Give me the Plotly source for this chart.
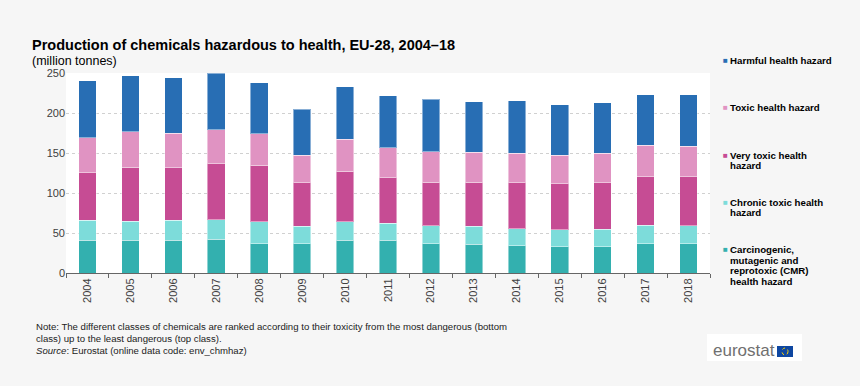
import plotly.graph_objects as go

years = ["2004", "2005", "2006", "2007", "2008", "2009", "2010", "2011",
         "2012", "2013", "2014", "2015", "2016", "2017", "2018"]

cmr = [41.2, 41.2, 41.2, 42.1, 36.7, 36.7, 40.8, 40.8, 36.7, 35.8, 33.8, 32.9, 32.9, 36.7, 36.7]
chronic_toxic = [24.6, 23.8, 24.6, 24.6, 27.1, 21.6, 23.0, 21.7, 22.5, 22.5, 21.7, 20.9, 21.7, 23.3, 22.1]
very_toxic = [59.6, 67.5, 65.9, 70.0, 70.9, 54.6, 63.4, 56.3, 54.1, 55.4, 57.5, 57.5, 58.3, 60.4, 61.7]
toxic = [43.8, 44.2, 43.3, 42.5, 39.2, 34.2, 40.0, 37.5, 38.4, 37.1, 36.7, 35.9, 37.1, 39.6, 37.9]
harmful = [71.2, 70.0, 69.2, 70.4, 63.8, 57.9, 65.8, 65.5, 65.8, 63.0, 65.4, 62.9, 62.9, 62.9, 64.6]

series_names = [
    "Carcinogenic,<br>mutagenic and<br>reprotoxic (CMR)<br>health hazard",
    "Chronic toxic health<br>hazard",
    "Very toxic health<br>hazard",
    "Toxic health hazard",
    "Harmful health hazard",
]
series_values = [cmr, chronic_toxic, very_toxic, toxic, harmful]
colors = ["#33B0AF", "#7DDCDA", "#C64C94", "#E093C2", "#286EB4"]

title = "Production of chemicals hazardous to health, EU-28, 2004–18"
subtitle = "(million tonnes)"
note_lines = ["Note: The different classes of chemicals are ranked according to their toxicity from the most dangerous (bottom",
              "class) up to the least dangerous (top class)."]
source = "<i>Source</i>: Eurostat (online data code: env_chmhaz)"

FONT = "Arial, Liberation Sans, sans-serif"

fig = go.Figure()
for name, vals, col in zip(series_names, series_values, colors):
    fig.add_trace(go.Bar(
        x=years, y=vals, name=name.replace("<br>", " "), marker_color=col,
        marker_line=dict(width=1, color="rgba(255,255,255,0.45)"),
        showlegend=False,
    ))

W, H = 860, 386
L, R, T, B = 66, 150, 73, 113
PW, PH = W - L - R, H - T - B

fig.update_layout(
    width=W, height=H,
    barmode="stack", bargap=0.59,
    paper_bgcolor="#F6F6F6", plot_bgcolor="#FFFFFF",
    margin=dict(l=L, r=R, t=T, b=B, autoexpand=False),
    font=dict(family=FONT, size=11, color="#404040"),
    xaxis=dict(
        type="category", tickangle=-90, tickson="boundaries",
        ticks="outside", ticklen=4, tickcolor="#666666",
        showline=True, linecolor="#666666", linewidth=1,
        showgrid=False, tickfont=dict(size=11, color="#404040"),
    ),
    yaxis=dict(
        range=[0, 250], tickvals=[0, 50, 100, 150, 200, 250],
        showgrid=True, gridcolor="#D0D0D0", griddash="dot", gridwidth=1,
        zeroline=False, showline=False, ticks="",
        tickfont=dict(size=11, color="#404040"),
    ),
)

def px_x(px):
    return (px - L) / PW

def px_y(py):
    return (H - B - py) / PH

def text_at(text, x, y, size, color="#000000", family=FONT, xanchor="left"):
    return dict(text=text, x=px_x(x), y=px_y(y), xref="paper", yref="paper",
                xanchor=xanchor, yanchor="middle", showarrow=False,
                font=dict(family=family, size=size, color=color))

ann = []
ann.append(text_at("<b>" + title + "</b>", 30, 45, 14.5))
ann.append(text_at(subtitle, 30, 61.5, 12.5))
ann.append(text_at(note_lines[0], 34, 326.5, 9.6, "#222222"))
ann.append(text_at(note_lines[1], 34, 338, 9.6, "#222222"))
ann.append(text_at(source, 34, 350.5, 9.6, "#222222"))

# Custom legend (top to bottom: reverse of stacking order)
legend_y = [60, 107, 155, 202, 249.5]
for (name, col), ly in zip(list(zip(series_names, colors))[::-1], legend_y):
    ann.append(text_at("■", 720.5, ly, 8, col))
    for i, line in enumerate(name.split("<br>")):
        ann.append(text_at("<b>" + line + "</b>", 728, ly + i * 10.6, 9.7))

# eurostat logo
ann.append(text_at("eurostat", 711, 350, 17, "#707070"))

shapes = [
    dict(type="rect", xref="paper", yref="paper", x0=px_x(707), x1=px_x(802), y0=px_y(361), y1=px_y(334),
         fillcolor="#FFFFFF", line=dict(width=0), layer="below"),
    dict(type="rect", xref="paper", yref="paper", x0=px_x(777), x1=px_x(793), y0=px_y(357), y1=px_y(346),
         fillcolor="#0E47A1", line=dict(width=0)),
    dict(type="circle", xref="paper", yref="paper", x0=px_x(782), x1=px_x(788), y0=px_y(355), y1=px_y(348),
         fillcolor="rgba(0,0,0,0)", line=dict(width=1, color="#FFD200", dash="dot")),
]

fig.update_layout(annotations=ann, shapes=shapes)

fig.write_html("out.html", config={"displayModeBar": False},
               post_script="document.body.style.margin='0';document.body.style.padding='0';")
